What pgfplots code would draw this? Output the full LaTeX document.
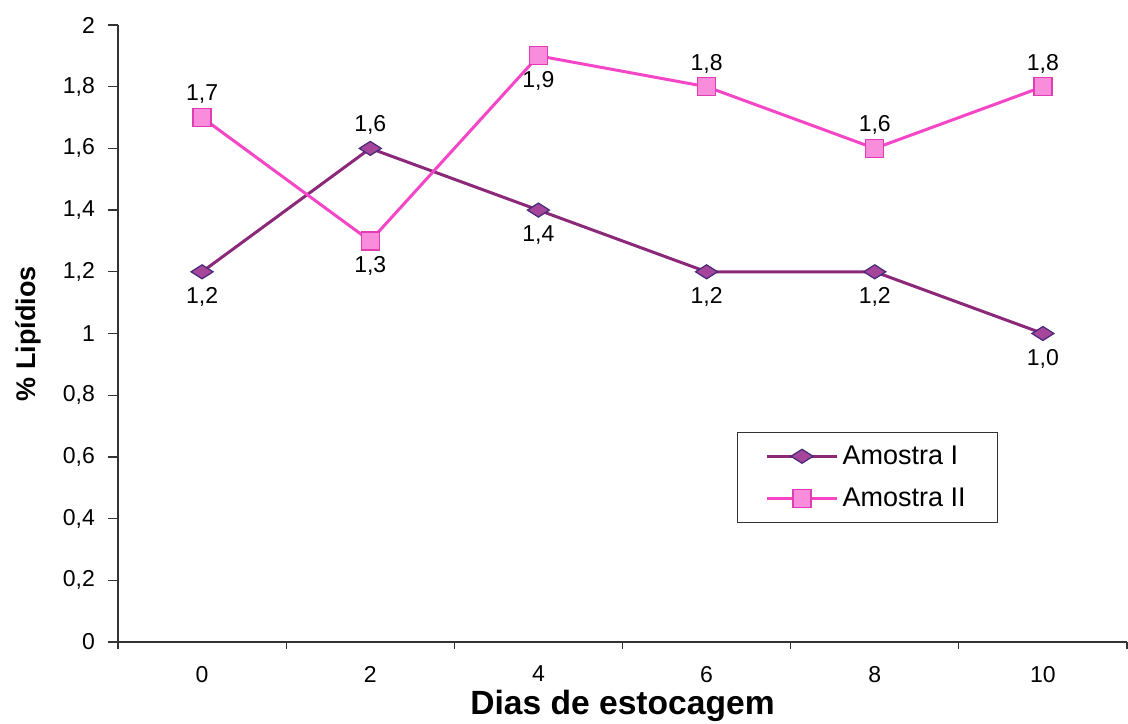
\documentclass[border=0pt]{standalone}
\usepackage{fontspec}
\setmainfont{Liberation Sans}
\usepackage{pgfplots}
\usepackage{pgfplotstable}
\pgfplotsset{compat=1.18}
\definecolor{amIline}{RGB}{140,40,120}
\definecolor{amIfill}{RGB}{165,70,155}
\definecolor{amIedge}{RGB}{70,40,120}
\definecolor{amIIline}{RGB}{245,70,200}
\definecolor{amIIfill}{RGB}{250,140,220}
\definecolor{amIIedge}{RGB}{225,60,180}
\pgfplotstableread{
x y pos
0 1.2 -1
2 1.6 0.92
4 1.4 -1
6 1.2 -1
8 1.2 -1
10 1.0 -1
}\amI
\pgfplotstableread{
x y pos
0 1.7 0.92
2 1.3 -1
4 1.9 -1
6 1.8 0.92
8 1.6 0.92
10 1.8 0.92
}\amII
\begin{document}
\begin{tikzpicture}
\begin{axis}[
  width=504.5pt, height=308.5pt, scale only axis,
  xmin=-1, xmax=11, ymin=0, ymax=2,
  axis lines=left, axis line style={-, line width=0.6pt, black!80},
  xtick={0,2,4,6,8,10},
  minor xtick={-1,1,3,5,7,9,11},
  ytick={0,0.2,...,2.01},
  tick align=outside,
  major tick length=5pt,
  minor tick length=3.5pt,
  x tick style={draw=none},
  minor x tick style={draw=black!80, line width=0.6pt},
  y tick style={draw=black!80, line width=0.6pt},
  font=\fontsize{11.5}{13}\selectfont,
  ticklabel style={font=\fontsize{11.5}{13}\selectfont},
  xticklabel style={yshift=-3.5pt},
  yticklabel style={xshift=-3pt},
  /pgf/number format/.cd, use comma, fixed, precision=1, assume math mode=true,
  /pgfplots/.cd,
  xlabel={\textbf{Dias de estocagem}},
  ylabel={\textbf{\% Lipídios}},
  xlabel style={at={(axis description cs:0.5,-0.1167)}, anchor=base, font=\fontsize{16.8}{18}\selectfont},
  ylabel style={at={(axis description cs:-0.089,0.5)}, anchor=center, font=\fontsize{13.5}{15}\selectfont},
  legend style={at={(axis description cs:0.6135,0.3404)}, anchor=north west, draw=black!80, line width=0.5pt,
    font=\fontsize{13.5}{15.5}\selectfont, row sep=6.5pt, inner xsep=14pt, inner ysep=4.5pt, legend cell align=left},
  legend image code/.code={
    \draw[#1] (0pt,0pt) -- (35pt,0pt);
    \draw[#1] plot coordinates {(17.5pt,0pt)};
  },
  nodes near coords={\pgfmathprintnumber[fixed,fixed zerofill,precision=1,use comma,assume math mode=true]{\pgfplotspointmeta}},
  point meta=y,
  visualization depends on={\thisrow{pos} \as \labelpos},
  every node near coord/.append style={anchor=center, yshift=\labelpos*12.5pt, font=\fontsize{11.5}{13}\selectfont, text=black},
  clip=false,
]
\addplot[color=amIline, line width=1.5pt, mark=diamond*, mark size=3.5pt,
  mark options={xscale=2.1, fill=amIfill, draw=amIedge, line width=0.6pt}] table[x=x,y=y] {\amI};
\addlegendentry{Amostra I}
\addplot[color=amIIline, line width=1.5pt, mark=square*, mark size=4.5pt,
  mark options={fill=amIIfill, draw=amIIedge, line width=0.6pt}] table[x=x,y=y] {\amII};
\addlegendentry{Amostra II}
\end{axis}
\pgfresetboundingbox
\path (-59pt,-40.5pt) rectangle (505pt,321pt);
\end{tikzpicture}
\end{document}
